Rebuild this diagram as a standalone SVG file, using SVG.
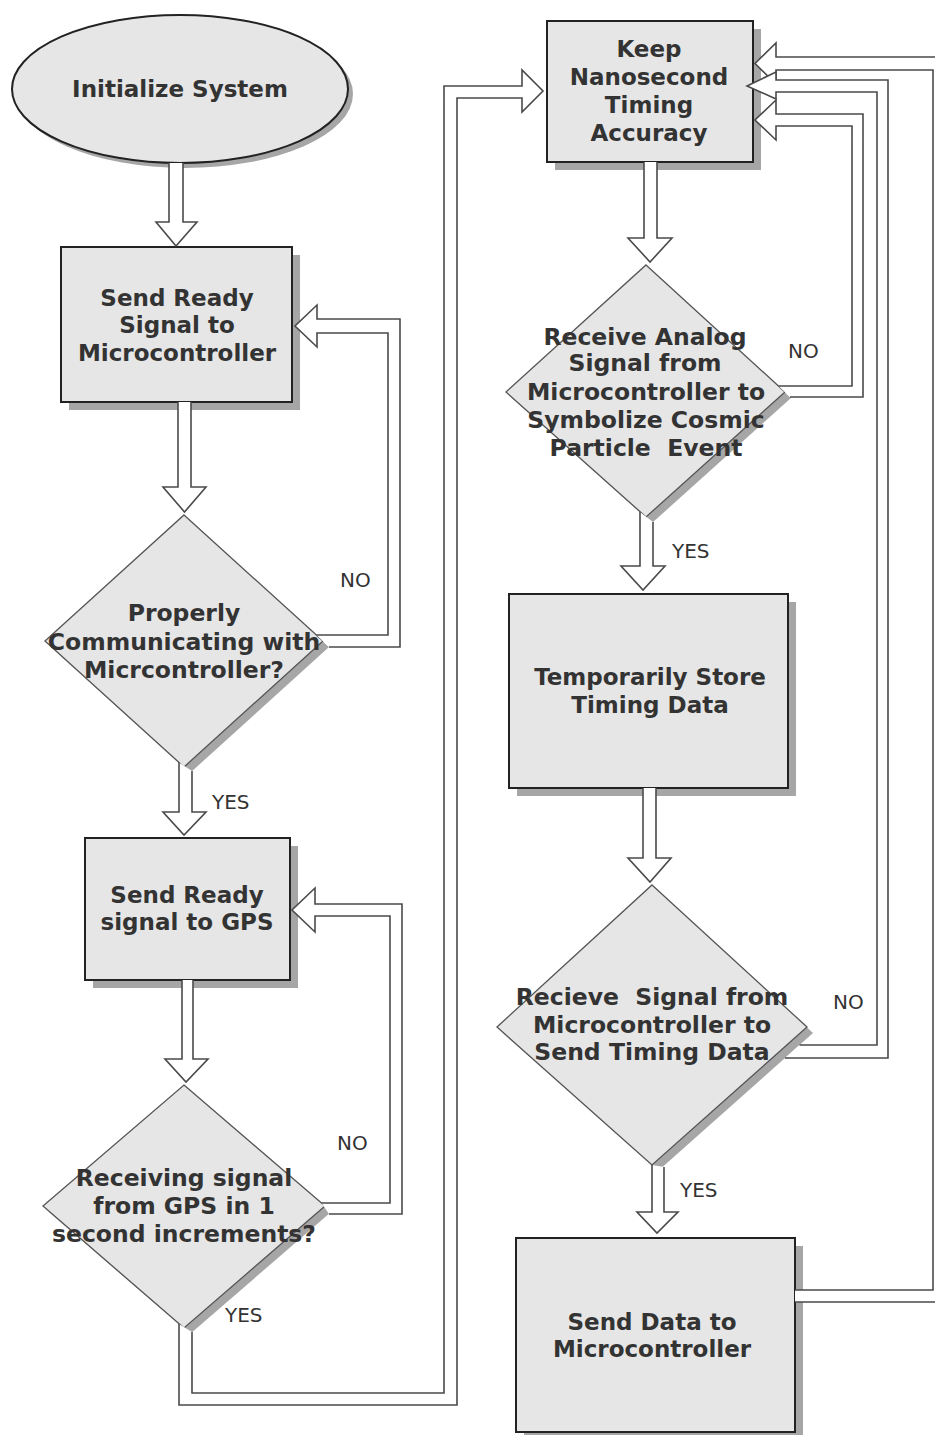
<svg xmlns="http://www.w3.org/2000/svg" width="935" height="1435" viewBox="0 0 935 1435">
<style>
.bg{fill:#ffffff}
.shape{fill:#e6e6e6;stroke:#222;stroke-width:2}
.dia{fill:#e6e6e6;stroke:#555;stroke-width:1.3}
.shadow{fill:#a6a6a6}
.t{font-family:"DejaVu Sans",Verdana,sans-serif;font-weight:bold;font-size:23px;fill:#333;text-anchor:middle}
.td{font-size:23.5px}
.lbl{font-family:"DejaVu Sans",Verdana,sans-serif;font-size:20px;fill:#333}
.arr{fill:#ffffff;stroke:#4a4a4a;stroke-width:1.6;stroke-linejoin:miter}
</style>
<rect class="bg" x="0" y="0" width="935" height="1435"/>

<g id="node-initialize">
<ellipse class="shadow" cx="185" cy="94" rx="168" ry="74"/>
<ellipse class="shape" cx="180" cy="89" rx="168" ry="74"/>
<text class="t" x="180" y="97">Initialize System</text>
</g>

<g id="node-send-ready-mc">
<rect class="shadow" x="69" y="255" width="231" height="155"/>
<rect class="shape" x="61" y="247" width="231" height="155"/>
<text class="t" x="177" y="306">Send Ready</text>
<text class="t" x="177" y="333">Signal to</text>
<text class="t" x="177" y="361">Microcontroller</text>
</g>

<g id="node-properly-communicating">
<polygon class="shadow" points="190,521 329,647 190,773 51,647"/>
<polygon class="dia" points="184,515 323,641 184,767 45,641"/>
<text class="t td" x="184" y="621">Properly</text>
<text class="t td" x="184" y="650">Communicating with</text>
<text class="t td" x="184" y="678">Micrcontroller?</text>
</g>

<g id="node-send-ready-gps">
<rect class="shadow" x="93" y="846" width="205" height="142"/>
<rect class="shape" x="85" y="838" width="205" height="142"/>
<text class="t" x="187" y="903">Send Ready</text>
<text class="t" x="187" y="930">signal to GPS</text>
</g>

<g id="node-receiving-gps">
<polygon class="shadow" points="190,1091 331,1212 190,1334 49,1212"/>
<polygon class="dia" points="184,1085 325,1206 184,1328 43,1206"/>
<text class="t td" x="184" y="1186">Receiving signal</text>
<text class="t td" x="184" y="1214">from GPS in 1</text>
<text class="t td" x="184" y="1242">second increments?</text>
</g>

<g id="node-keep-timing">
<rect class="shadow" x="555" y="29" width="206" height="141"/>
<rect class="shape" x="547" y="21" width="206" height="141"/>
<text class="t" x="649" y="57">Keep</text>
<text class="t" x="649" y="85">Nanosecond</text>
<text class="t" x="649" y="113">Timing</text>
<text class="t" x="649" y="141">Accuracy</text>
</g>

<g id="node-receive-analog">
<polygon class="shadow" points="652,271 791,398 652,523 512,398"/>
<polygon class="dia" points="646,265 785,392 646,517 506,392"/>
<text class="t td" x="645" y="345">Receive Analog</text>
<text class="t td" x="645" y="371">Signal from</text>
<text class="t td" x="646" y="400">Microcontroller to</text>
<text class="t td" x="646" y="428">Symbolize Cosmic</text>
<text class="t td" x="646" y="456" xml:space="preserve">Particle  Event</text>
</g>

<g id="node-store-timing">
<rect class="shadow" x="517" y="602" width="279" height="194"/>
<rect class="shape" x="509" y="594" width="279" height="194"/>
<text class="t" x="650" y="685">Temporarily Store</text>
<text class="t" x="650" y="713">Timing Data</text>
</g>

<g id="node-receive-send-signal">
<polygon class="shadow" points="658,891 813,1033 658,1171 503,1033"/>
<polygon class="dia" points="652,885 807,1027 652,1165 497,1027"/>
<text class="t td" x="652" y="1005" xml:space="preserve">Recieve  Signal from</text>
<text class="t td" x="652" y="1033">Microcontroller to</text>
<text class="t td" x="652" y="1060">Send Timing Data</text>
</g>

<g id="node-send-data">
<rect class="shadow" x="524" y="1246" width="279" height="194"/>
<rect class="shape" x="516" y="1238" width="279" height="194"/>
<text class="t" x="652" y="1330">Send Data to</text>
<text class="t" x="652" y="1357">Microcontroller</text>
</g>

<g id="connectors">
<path class="arr" d="M169,163 V222 H156 L176,246 L197,222 H183 V163"/>
<path class="arr" d="M178,402 V487 H163 L184.5,512 L206,487 H191 V402"/>
<path class="arr" d="M179,762.5 V812 H163 L184,835 L206,812 H192 V771"/>
<path class="arr" d="M182,980 V1059 H165 L186,1082 L208,1059 H193 V980"/>
<path class="arr" d="M644,162 V238 H628 L650,262 L672,238 H657 V162"/>
<path class="arr" d="M640,512 V566 H621 L643,590 L665,566 H653 V522"/>
<path class="arr" d="M643,788 V858 H628 L650,882 L671,858 H656 V788"/>
<path class="arr" d="M652,1165 V1212 H637 L657,1233 L678,1212 H664 V1167"/>
<path class="arr" d="M329,647 H400 V319 H317 V305 L295,326 L317,347 V333 H388 V635 H316.5"/>
<path class="arr" d="M329,1214 H402 V904 H315 V888 L292,910 L315,932 V916 H390 V1203 H321.5"/>
<path class="arr" d="M179,1324 V1405 H457 V98 H522 V112 L543,91 L522,70 V86 H444 V1393 H192 V1332"/>
<path class="arr" d="M795,1302 H946 V57 H776 V43 L755,63.5 L776,84 V70 H933 V1290 H795"/>
<path class="arr" d="M785,1058 H888 V80 H776 V72 L747,86 L776,99 V92 H877 V1045 H799.5"/>
<path class="arr" d="M790,397 H863 V114 H776 V100 L755,120 L776,140 V126 H852 V386 H778.5"/>
<text class="lbl" x="340" y="587">NO</text>
<text class="lbl" x="212" y="809">YES</text>
<text class="lbl" x="337" y="1150">NO</text>
<text class="lbl" x="225" y="1322">YES</text>
<text class="lbl" x="788" y="358">NO</text>
<text class="lbl" x="672" y="558">YES</text>
<text class="lbl" x="833" y="1009">NO</text>
<text class="lbl" x="680" y="1197">YES</text>
</g>
</svg>
